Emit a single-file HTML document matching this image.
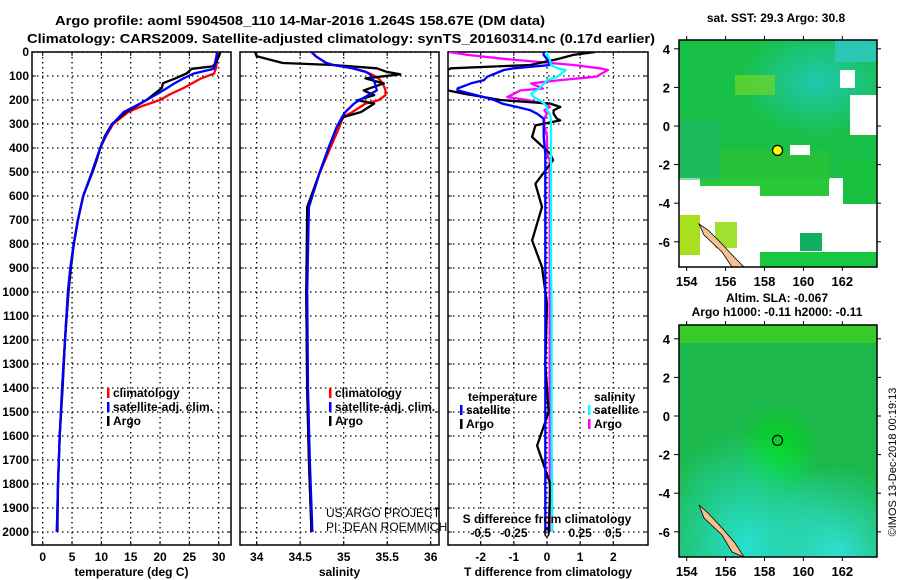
<!DOCTYPE html>
<html><head><meta charset="utf-8"><style>
body{margin:0;background:#fff}
svg{display:block;font-family:"Liberation Sans",sans-serif;font-weight:bold}
</style></head><body>
<svg id="s" width="900" height="580" viewBox="0 0 900 580">
<defs>
<clipPath id="c1"><rect x="32" y="52" width="199" height="493"/></clipPath>
<clipPath id="c2"><rect x="240" y="52" width="199" height="493"/></clipPath>
<clipPath id="c3"><rect x="448" y="52" width="200" height="493"/></clipPath>
<clipPath id="m1"><rect x="679" y="40" width="198" height="227"/></clipPath>
<clipPath id="m2"><rect x="679" y="325" width="198" height="232"/></clipPath>
<radialGradient id="g1" cx="0.35" cy="0.95" r="0.5"><stop offset="0" stop-color="#28e0d0"/><stop offset="1" stop-color="#28e0d0" stop-opacity="0"/></radialGradient>
<radialGradient id="g2" cx="0.8" cy="1" r="0.4"><stop offset="0" stop-color="#30e0d8"/><stop offset="1" stop-color="#30e0d8" stop-opacity="0"/></radialGradient>
<radialGradient id="g3" cx="0.5" cy="0.55" r="0.22"><stop offset="0" stop-color="#00d818"/><stop offset="1" stop-color="#00d818" stop-opacity="0"/></radialGradient>
<radialGradient id="g4" cx="0.7" cy="0.3" r="0.4"><stop offset="0" stop-color="#20c8b0"/><stop offset="1" stop-color="#20c8b0" stop-opacity="0"/></radialGradient>
</defs>
<text x="300" y="25" font-size="13" text-anchor="middle" textLength="490" lengthAdjust="spacingAndGlyphs">Argo profile: aoml 5904508_110 14-Mar-2016 1.264S 158.67E (DM data)</text>
<text x="341" y="43" font-size="13" text-anchor="middle" textLength="628" lengthAdjust="spacingAndGlyphs">Climatology: CARS2009. Satellite-adjusted climatology: synTS_20160314.nc (0.17d earlier)</text>
<g id="p1"></g>
<g id="p2"></g>
<g id="p3"></g>
<g id="map1"></g>
<g id="map2"></g>
<text x="776" y="22" font-size="12" text-anchor="middle">sat. SST: 29.3 Argo: 30.8</text>
<text x="777" y="302" font-size="12" text-anchor="middle">Altim. SLA: -0.067</text>
<text x="777" y="316" font-size="12" text-anchor="middle">Argo h1000: -0.11 h2000: -0.11</text>
<text transform="translate(896,462) rotate(-90)" font-size="11" style="font-weight:normal" text-anchor="middle">©IMOS 13-Dec-2018 00:19:13</text>
</svg>
<script>
const NS='http://www.w3.org/2000/svg';
const depthT=[0,20,40,60,70,90,110,130,150,175,200,225,250,300,350,400,450,500,600,700,800,900,1000,1200,1400,1600,1800,2000];
const argoT=[30.3,30.0,29.6,29.0,25.4,24.5,22.6,20.5,20.3,19.0,17.7,16.0,14.2,11.8,10.6,9.8,9.2,8.5,6.9,6.0,5.3,4.8,4.4,3.8,3.4,2.9,2.6,2.5];
const climT=[29.8,29.8,29.7,29.6,29.5,29.2,27.0,25.5,24.0,21.8,20.0,17.0,14.6,12.0,10.8,9.8,9.1,8.4,6.9,6.0,5.3,4.7,4.3,3.8,3.3,2.9,2.6,2.4];
const satT=[29.7,29.6,29.4,29.3,29.2,25.7,24.0,22.5,21.2,19.5,17.7,15.8,13.8,11.9,10.7,9.8,9.1,8.4,6.9,6.0,5.3,4.7,4.3,3.8,3.3,2.9,2.6,2.4];
const depthS=[0,18,46,54,68,82,93,110,131,160,180,201,215,250,271,313,396,507,646,1000,1400,1700,2000];
const argoS=[33.98,34.0,34.3,34.88,35.38,35.49,35.65,35.25,35.46,35.23,35.35,35.16,35.35,35.2,35.0,34.92,34.83,34.72,34.58,34.57,34.58,34.6,34.63];
const climS=[34.63,34.68,34.8,34.88,35.1,35.25,35.32,35.4,35.45,35.48,35.48,35.4,35.25,35.1,34.99,34.95,34.85,34.72,34.6,34.57,34.58,34.6,34.63];
const satS=[34.63,34.68,34.8,34.88,35.1,35.25,35.3,35.33,35.36,35.38,35.28,35.18,35.12,35.02,34.98,34.92,34.83,34.72,34.6,34.58,34.59,34.61,34.64];
const depthD=[0,12,30,54,68,75,103,117,131,152,160,174,188,200,215,229,243,257,278,285,306,354,424,451,549,646,785,896,1049,1300,1500,1640,1800,2000];
const argoDT=[1.45,0.8,0.3,-0.5,-2.9,-3,-3,-3,-3,-3,-3,-2.5,-1.9,-1.4,0.1,0.4,0.2,0.2,0.3,0.4,-0.35,-0.45,0.1,0.18,-0.35,-0.15,-0.45,-0.15,0,-0.05,0.05,-0.3,0.1,0.05];
const satDT=[-0.1,-0.1,0.0,0.1,-1.0,-1.3,-1.8,-1.9,-2.3,-2.7,-2.7,-2.3,-1.9,-1.6,-1.35,-0.9,-0.5,-0.3,-0.1,-0.1,-0.1,-0.1,-0.05,-0.05,-0.05,-0.05,-0.05,-0.05,-0.05,-0.05,-0.05,-0.05,-0.05,-0.05];
const argoDS=[-0.74,-0.6,-0.3,0.2,0.4,0.46,0.37,0.1,-0.12,-0.03,-0.2,-0.25,-0.3,-0.15,-0.02,0.02,-0.02,0.0,-0.02,-0.02,-0.02,0.0,0.0,0.02,0.02,0.02,0.02,0.02,0.02,0.02,0.02,0.02,0.02,0.02];
const satDS=[0.0,0.0,0.02,0.03,0.08,0.14,0.08,0.0,-0.02,-0.06,-0.08,-0.12,-0.1,-0.06,-0.02,0.0,0.0,0.02,0.03,0.03,0.03,0.03,0.03,0.03,0.03,0.03,0.03,0.03,0.035,0.035,0.035,0.035,0.038,0.04];
const depthTicks=[0,100,200,300,400,500,600,700,800,900,1000,1100,1200,1300,1400,1500,1600,1700,1800,1900,2000];
const tTicks=[0,5,10,15,20,25,30];
const sTicks=[34,34.5,35,35.5,36];
const dTTicks=[-2,-1,0,1,2];
const dSTicks=[-0.5,-0.25,0,0.25,0.5];
const latTicks=[4,2,0,-2,-4,-6];
const lonTicks=[154,156,158,160,162];
const floatLon=158.67, floatLat=-1.264;

const yD=d=>52+d*0.24;
const xT=t=>42.7+t*5.867;
const xS=s=>256.7+(s-34)*87;
const xDT=t=>547+t*33.15;
const xDS=s=>547+s*4*33.15;
function el(tag,attrs,parent){const e=document.createElementNS(NS,tag);for(const k in attrs)e.setAttribute(k,attrs[k]);parent.appendChild(e);return e;}
function txt(parent,x,y,s,anchor,size){const t=el('text',{x:x,y:y,'font-size':size||12,'text-anchor':anchor||'middle'},parent);t.textContent=s;return t;}

function panel(g,x0,clip,xticks,xf,labels,xlabel){
  const right=x0+(clip==='c3'?200:199);
  for(const d of depthTicks){const y=yD(d);
    const gl=el('line',{x1:x0,x2:right,y1:y,y2:y,stroke:'#000','stroke-dasharray':'1.5,3.5','stroke-width':1.3},g);
    
    el('line',{x1:x0,x2:x0+4,y1:y,y2:y,stroke:'#000'},g);el('line',{x1:right-4,x2:right,y1:y,y2:y,stroke:'#000'},g);}
  xticks.forEach((v,i)=>{const x=xf(v);
    const gl=el('line',{x1:x,x2:x,y1:52,y2:545,stroke:'#000','stroke-dasharray':'1.5,3.5','stroke-width':1.3},g);
    
    el('line',{x1:x,x2:x,y1:545,y2:541,stroke:'#000'},g);el('line',{x1:x,x2:x,y1:52,y2:56,stroke:'#000'},g);
    const t=txt(g,x,561,labels[i]);
    });
  el('rect',{x:x0,y:52,width:right-x0,height:493,fill:'none',stroke:'#000','stroke-width':1.5},g);
  const xl=txt(g,x0+(right-x0)/2,576,xlabel);
  
}
function line(g,clip,depths,vals,xf,color,name){
  const pts=depths.map((d,i)=>xf(vals[i]).toFixed(1)+','+yD(d).toFixed(1)).join(' ');
  const p=el('polyline',{points:pts,fill:'none',stroke:color,'stroke-width':2.3,'clip-path':'url(#'+clip+')','stroke-linejoin':'round'},g);
  
}
function legend(g,x,y,items){items.forEach((it,i)=>{
  el('rect',{x:x,y:y+i*14-10,width:2.5,height:10,fill:it[1]},g);
  const t=txt(g,x+6,y+i*14-1,it[0],'start');
  });}

const p1=document.getElementById('p1'),p2=document.getElementById('p2'),p3=document.getElementById('p3');
panel(p1,32,'c1',tTicks,xT,tTicks.map(String),'temperature (deg C)');
depthTicks.forEach(d=>{const t=txt(p1,29,yD(d)+4,String(d),'end');});
line(p1,'c1',depthT,climT,xT,'#f00','temp-climatology-line');
line(p1,'c1',depthT,argoT,xT,'#000','temp-argo-line');
line(p1,'c1',depthT,satT,xT,'#00f','temp-satellite-line');
legend(p1,107,398,[['climatology','#f00'],['satellite-adj. clim.','#00f'],['Argo','#000']]);

panel(p2,240,'c2',sTicks,xS,['34','34.5','35','35.5','36'],'salinity');
line(p2,'c2',depthS,climS,xS,'#f00','sal-climatology-line');
line(p2,'c2',depthS,argoS,xS,'#000','sal-argo-line');
line(p2,'c2',depthS,satS,xS,'#00f','sal-satellite-line');
legend(p2,329,398,[['climatology','#f00'],['satellite-adj. clim.','#00f'],['Argo','#000']]);
const c1=txt(p2,326,517,'US ARGO PROJECT','start',12);c1.style.fontWeight='normal';

const c2=txt(p2,326,531,'PI: DEAN ROEMMICH','start',12);c2.style.fontWeight='normal';


panel(p3,448,'c3',dTTicks,xDT,dTTicks.map(String),'T difference from climatology');
line(p3,'c3',depthD,argoDS,xDS,'#f0f','sal-diff-argo-line');
line(p3,'c3',depthD,argoDT,xDT,'#000','temp-diff-argo-line');
line(p3,'c3',depthD,satDT,xDT,'#00f','temp-diff-satellite-line');
line(p3,'c3',depthD,satDS,xDS,'#0ff','sal-diff-satellite-line');
dSTicks.forEach(s=>{const t=txt(p3,xDS(s),537,String(s));
  });
const st=txt(p3,547,523,'S difference from climatology');
const lt=txt(p3,468,401,'temperature','start');
legend(p3,460,415,[['satellite','#00f'],['Argo','#000']]);
const ls=txt(p3,594,401,'salinity','start');
legend(p3,588,415,[['satellite','#0ff'],['Argo','#f0f']]);

function mapAxes(g,top,bottom,lat0y){
  const lonX=l=>686.7+(l-154)*19.45, latY=l=>lat0y-l*19.3;
  latTicks.forEach(l=>{const y=latY(l);if(y<top||y>bottom)return;
    el('line',{x1:674,x2:679,y1:y,y2:y,stroke:'#000'},g);el('line',{x1:877,x2:881,y1:y,y2:y,stroke:'#000'},g);
    const t=txt(g,670,y+5,String(l),'end',13);});
  lonTicks.forEach(l=>{const x=lonX(l);
    el('line',{x1:x,x2:x,y1:bottom,y2:bottom+4,stroke:'#000'},g);el('line',{x1:x,x2:x,y1:top-4,y2:top,stroke:'#000'},g);
    const t=txt(g,x,bottom+19,String(l),'middle',13);});
  return [lonX,latY];
}
// map 1
const m1=document.getElementById('map1');
const gm1=el('g',{'clip-path':'url(#m1)'},m1);
el('rect',{x:679,y:40,width:198,height:138,fill:'#18c048'},gm1);
el('path',{d:'M679,178 L700,178 L700,186 L760,186 L760,196 L829,196 L829,178 L679,178 Z',fill:'#28c838'},gm1);
el('rect',{x:679,y:40,width:198,height:138,fill:'url(#g4)'},gm1);
el('rect',{x:835,y:40,width:42,height:22,fill:'#30c8c8',opacity:0.8},gm1);
el('rect',{x:735,y:75,width:40,height:20,fill:'#80d820',opacity:0.6},gm1);
el('rect',{x:679,y:120,width:40,height:60,fill:'#20b870',opacity:0.5},gm1);
el('rect',{x:720,y:150,width:110,height:30,fill:'#30c030',opacity:0.6},gm1);
el('rect',{x:850,y:95,width:27,height:40,fill:'#fff'},gm1);
el('rect',{x:840,y:70,width:15,height:18,fill:'#fff'},gm1);
el('rect',{x:790,y:145,width:20,height:10,fill:'#fff'},gm1);
el('rect',{x:843,y:158,width:34,height:46,fill:'#18c040'},gm1);
el('rect',{x:680,y:215,width:20,height:40,fill:'#a8e020'},gm1);
el('rect',{x:715,y:222,width:22,height:26,fill:'#a0e030'},gm1);
el('rect',{x:800,y:233,width:22,height:18,fill:'#10b060'},gm1);
el('rect',{x:760,y:252,width:117,height:15,fill:'#18c840'},gm1);
el('path',{d:'M699,224 L704,235 L722,252 L732,267 L744,267 L735,258 L722,244 L708,230 Z',fill:'#f8c090',stroke:'#000','stroke-width':0.8},gm1);
el('rect',{x:679,y:40,width:198,height:227,fill:'none',stroke:'#000','stroke-width':1.5},m1);
const [lx1,ly1]=mapAxes(m1,40,267,126);
const fd1=el('circle',{cx:lx1(floatLon),cy:ly1(floatLat),r:5,fill:'#ff0',stroke:'#000','stroke-width':1.2},m1);

// map 2
const m2=document.getElementById('map2');
const gm2=el('g',{'clip-path':'url(#m2)'},m2);
el('rect',{x:679,y:325,width:198,height:232,fill:'#1cb84c'},gm2);
el('rect',{x:679,y:325,width:198,height:18,fill:'#40d020',opacity:0.8},gm2);
el('rect',{x:679,y:325,width:198,height:232,fill:'url(#g3)'},gm2);
el('rect',{x:679,y:325,width:198,height:232,fill:'url(#g1)'},gm2);
el('rect',{x:679,y:325,width:198,height:232,fill:'url(#g2)'},gm2);
el('path',{d:'M699,505 L704,518 L722,535 L732,552 L744,557 L735,543 L722,528 L708,513 Z',fill:'#f8c090',stroke:'#000','stroke-width':0.8},gm2);
el('rect',{x:679,y:325,width:198,height:232,fill:'none',stroke:'#000','stroke-width':1.5},m2);
const [lx2,ly2]=mapAxes(m2,325,557,416);
const fd2=el('circle',{cx:lx2(floatLon),cy:ly2(floatLat),r:5,fill:'none',stroke:'#000','stroke-width':1.2},m2);

</script>
</body></html>
